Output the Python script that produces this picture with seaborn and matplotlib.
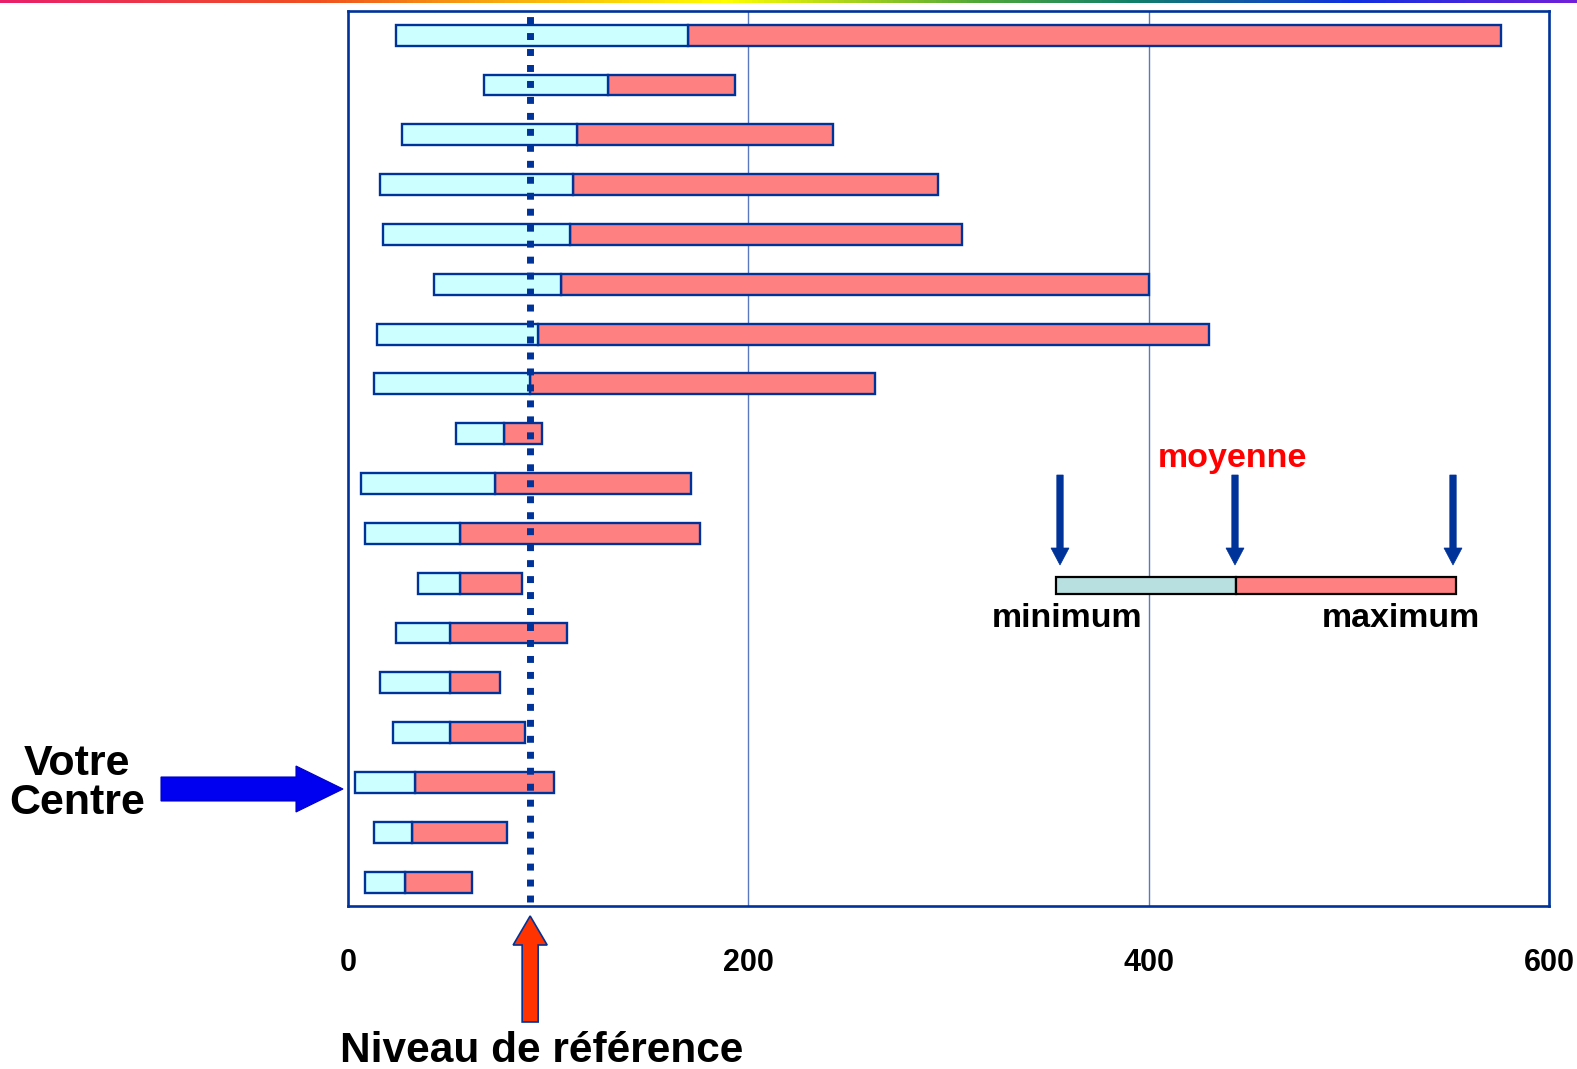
import numpy as np
import pandas as pd
import matplotlib
matplotlib.use("Agg")
import matplotlib.pyplot as plt
import seaborn as sns
from matplotlib.patches import Polygon, Rectangle
from matplotlib.colors import LinearSegmentedColormap

# ---------------- data ----------------
centres = [f"C{i}" for i in range(1, 19)]
minimum = [24, 68, 27, 16, 17.5, 43, 14.5, 13, 54, 6.5, 8.5, 35, 24, 16, 22.5, 3.5, 13, 8.5]
moyenne = [170, 130, 114.5, 112.5, 111, 106.5, 95, 91, 78, 73.5, 56, 56, 51, 51, 51, 33.5, 32, 28.5]
maximum = [576, 193.5, 242.5, 295, 306.5, 400, 430, 263.5, 97, 171.5, 176, 87, 109.5, 76, 88.5, 103, 79.5, 62]
niveau_reference = 91
xticks = [0, 200, 400, 600]

# ---------------- style ----------------
sns.set_theme(style="white")
plt.rcParams["font.family"] = ["Liberation Sans", "DejaVu Sans"]
plt.rcParams["text.color"] = "black"

NAVY = "#003399"
CYAN = "#CCFFFF"
SALMON = "#FF8080"

W, H = 1577, 1069
fig = plt.figure(figsize=(W / 100, H / 100), dpi=100)

def fy(y):  # pixel-from-top -> inches-from-bottom
    return (H - y) / 100

def fx(x):
    return x / 100

ax = fig.add_axes([348 / W, 1 - 906 / H, (1549 - 348) / W, (906 - 11) / H])

df = pd.DataFrame({"centre": centres, "min": minimum, "moy": moyenne, "max": maximum})

# salmon segment (moyenne -> maximum)
sns.barplot(data=df, y="centre", x="max", color=SALMON, saturation=1, width=0.42,
            edgecolor=NAVY, linewidth=1.7, orient="h", ax=ax, zorder=3)
n = len(centres)
for p, lo in zip(ax.patches[:n], moyenne):
    w = p.get_width()
    p.set_x(lo)
    p.set_width(w - lo)
# cyan segment (minimum -> moyenne)
sns.barplot(data=df, y="centre", x="moy", color=CYAN, saturation=1, width=0.42,
            edgecolor=NAVY, linewidth=1.7, orient="h", ax=ax, zorder=3)
for p, lo in zip(ax.patches[n:2 * n], minimum):
    w = p.get_width()
    p.set_x(lo)
    p.set_width(w - lo)

ax.set_xlim(0, 600)
ax.set_ylim(17.48, -0.486)
ax.set_xticks(xticks)
ax.set_xticklabels([str(t) for t in xticks], fontsize=22, fontweight="bold", color="black")
ax.set_yticks([])
ax.set_xlabel("")
ax.set_ylabel("")
ax.tick_params(axis="x", length=0, pad=30)

# grid lines
for gx in [200, 400]:
    ax.axvline(gx, color="#5A78C0", lw=1.0, zorder=1)

for s in ax.spines.values():
    s.set_color(NAVY)
    s.set_linewidth(1.9)
    s.set_visible(True)

# reference dotted line
ax.axvline(niveau_reference, ymin=0.005, ymax=0.995, color=NAVY, lw=5,
           linestyle=(0, (1, 1.3)), zorder=5)

# ---------------- rainbow line at top ----------------
rb = fig.add_axes([0, 1 - 3 / H, 1, 3 / H])
rainbow = LinearSegmentedColormap.from_list(
    "rb", [(0.0, "#E8206A"), (0.2, "#F05020"), (0.3, "#F7A010"), (0.46, "#FFFF00"),
           (0.62, "#50A838"), (0.72, "#10806A"), (0.86, "#1030E0"), (1.0, "#7020D8")])
rb.imshow(np.linspace(0, 1, 512)[None, :], aspect="auto", cmap=rainbow)
rb.set_axis_off()

# ---------------- annotations ----------------
T = fig.dpi_scale_trans

# Votre Centre
fig.text(77 / W, 1 - 764 / H, "Votre", ha="center", va="center", fontsize=31, fontweight="bold")
fig.text(77 / W, 1 - 803 / H, "Centre", ha="center", va="center", fontsize=31, fontweight="bold")

# blue arrow
yc = 789
bx0, btip = 161, 343
shaft, head_h, head_l = 12, 23, 47
pts = [(bx0, yc - shaft), (btip - head_l, yc - shaft), (btip - head_l, yc - head_h), (btip, yc),
       (btip - head_l, yc + head_h), (btip - head_l, yc + shaft), (bx0, yc + shaft)]
fig.patches.append(Polygon([(fx(x), fy(y)) for x, y in pts], closed=True, transform=T,
                           facecolor="#0000F0", edgecolor="#0000C0", lw=0.8, figure=fig))

# red up arrow under reference line
xr = 348 + niveau_reference * (1549 - 348) / 600
ytip, ybot = 916, 1022
hs, hh, hl = 8, 17, 29
pts = [(xr - hs, ybot), (xr - hs, ytip + hl), (xr - hh, ytip + hl), (xr, ytip),
       (xr + hh, ytip + hl), (xr + hs, ytip + hl), (xr + hs, ybot)]
fig.patches.append(Polygon([(fx(x), fy(y)) for x, y in pts], closed=True, transform=T,
                           facecolor="#FF3300", edgecolor=NAVY, lw=1.2, figure=fig))

fig.text(340 / W, 1 - 1062 / H, "Niveau de référence", ha="left", va="baseline",
         fontsize=30.5, fontweight="bold")

# ---------------- schematic legend ----------------
lx0, lxm, lx1 = 1056, 1236, 1456
ly0, ly1 = 577, 594
fig.patches.append(Rectangle((fx(lx0), fy(ly1)), fx(lxm - lx0), (ly1 - ly0) / 100, transform=T,
                             facecolor="#B8E0E0", edgecolor="black", lw=1.6, figure=fig))
fig.patches.append(Rectangle((fx(lxm), fy(ly1)), fx(lx1 - lxm), (ly1 - ly0) / 100, transform=T,
                             facecolor=SALMON, edgecolor="black", lw=1.6, figure=fig))

def down_arrow(x, ytop, ytip):
    s, h, l = 3.2, 9, 17
    pts = [(x - s, ytop), (x + s, ytop), (x + s, ytip - l), (x + h, ytip - l), (x, ytip),
           (x - h, ytip - l), (x - s, ytip - l)]
    fig.patches.append(Polygon([(fx(a), fy(b)) for a, b in pts], closed=True, transform=T,
                               facecolor=NAVY, edgecolor=NAVY, lw=0.5, figure=fig))

for axx in [1060, 1235, 1453]:
    down_arrow(axx, 475, 565)

fig.text(1232 / W, 1 - 467 / H, "moyenne", ha="center", va="baseline", fontsize=24.5,
         fontweight="bold", color="#FF0000")
fig.text(1067 / W, 1 - 627 / H, "minimum", ha="center", va="baseline", fontsize=24.5,
         fontweight="bold")
fig.text(1401 / W, 1 - 627 / H, "maximum", ha="center", va="baseline", fontsize=24.5,
         fontweight="bold")

fig.savefig("out.png", dpi=100, facecolor="white")
